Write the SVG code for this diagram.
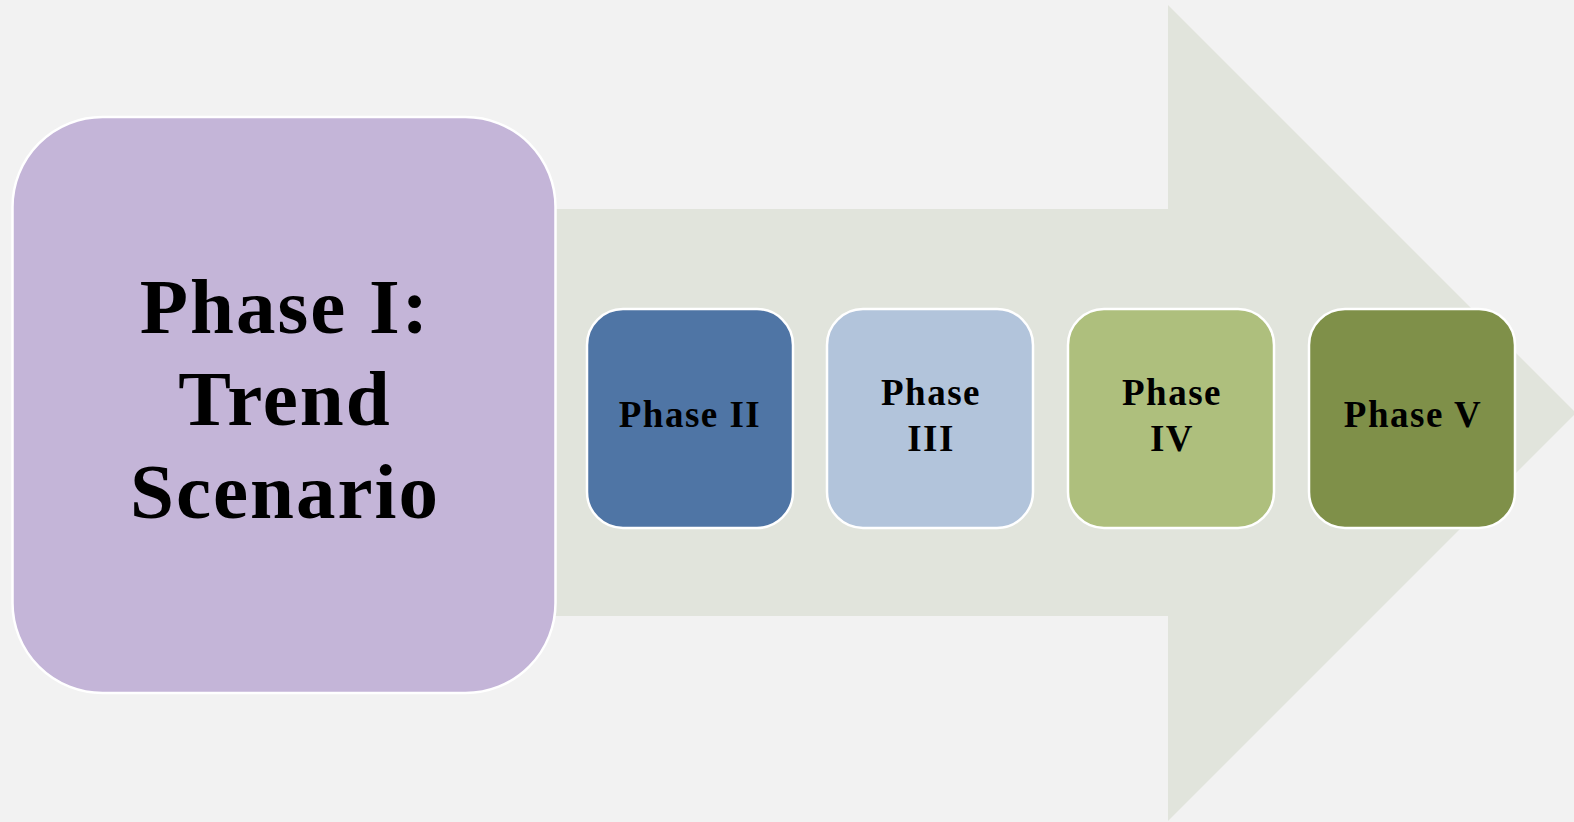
<svg xmlns="http://www.w3.org/2000/svg" width="1574" height="822" viewBox="0 0 1574 822">
  <style>
    .box { stroke: #FFFFFF; stroke-width: 2.5; }
    .t { font-family: "Liberation Serif", "Times New Roman", serif; font-weight: bold; fill: #000000; text-anchor: middle; }
    .big { font-size: 79px; letter-spacing: 2px; }
    .small { font-size: 37px; letter-spacing: 1.5px; }
  </style>
  <rect x="0" y="0" width="1574" height="822" fill="#F2F2F2"/>
  <g id="connectors">
    <polygon id="arrow" points="500,209 1168,209 1168,5 1576,413 1168,821 1168,616 500,616" fill="#E1E4DC"/>
  </g>
  <g id="phase1">
    <rect class="box" x="12.5" y="117" width="543" height="576" rx="90" ry="90" fill="#C4B5D8"/>
    <text class="t big" x="285" y="333">Phase I:</text>
    <text class="t big" x="285" y="425">Trend</text>
    <text class="t big" x="285" y="518">Scenario</text>
  </g>
  <g id="phase2">
    <rect class="box" x="587" y="309" width="206" height="219" rx="36" ry="36" fill="#4F75A5"/>
    <text class="t small" x="690" y="427">Phase II</text>
  </g>
  <g id="phase3">
    <rect class="box" x="827" y="309" width="206" height="219" rx="36" ry="36" fill="#B2C4DB"/>
    <text class="t small" x="931" y="405">Phase</text>
    <text class="t small" x="931" y="451">III</text>
  </g>
  <g id="phase4">
    <rect class="box" x="1068" y="309" width="206" height="219" rx="36" ry="36" fill="#AEBF7D"/>
    <text class="t small" x="1172" y="405">Phase</text>
    <text class="t small" x="1172" y="451">IV</text>
  </g>
  <g id="phase5">
    <rect class="box" x="1309" y="309" width="206" height="219" rx="36" ry="36" fill="#7F9049"/>
    <text class="t small" x="1413" y="427">Phase V</text>
  </g>
</svg>
